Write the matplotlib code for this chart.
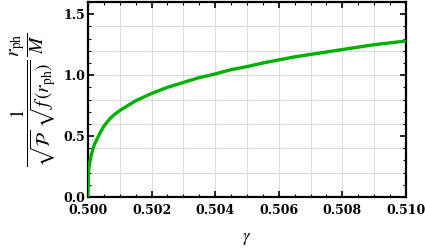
import matplotlib
matplotlib.use('Agg')
import matplotlib.pyplot as plt
from matplotlib.ticker import MultipleLocator, FormatStrFormatter

plt.rcParams['mathtext.fontset'] = 'stix'
plt.rcParams['font.family'] = 'DejaVu Serif'

# values
gamma = [0.5, 0.50001, 0.50002, 0.50004, 0.50006, 0.5001, 0.50015, 0.5002,
         0.5003, 0.5004, 0.5005, 0.5006, 0.5007, 0.5008, 0.5009,
         0.5010, 0.5015, 0.5020, 0.5025, 0.5030, 0.5035, 0.5040, 0.5045,
         0.5050, 0.5055, 0.5060, 0.5065, 0.5070, 0.5075, 0.5080, 0.5085,
         0.5090, 0.5095, 0.5100]
ratio = [0.0, 0.16, 0.21, 0.26, 0.29, 0.34, 0.39, 0.43,
         0.485, 0.535, 0.58, 0.615, 0.645, 0.67, 0.69,
         0.71, 0.79, 0.85, 0.90, 0.94, 0.98, 1.01, 1.045,
         1.07, 1.10, 1.125, 1.15, 1.17, 1.19, 1.21, 1.23,
         1.25, 1.265, 1.28]

fig = plt.figure(figsize=(4.25, 2.52), dpi=100)
ax = fig.add_axes([0.207, 0.218, 0.748, 0.774])

ax.plot(gamma, ratio, color='#00b000', lw=2.4, solid_joinstyle='round', zorder=3)

ax.set_xlim(0.5, 0.51)
ax.set_ylim(0.0, 1.6)

# light grid
for i in range(1, 10):
    ax.axvline(0.5 + 0.001 * i, color='#dddddd', lw=0.8, zorder=1)
for i in range(1, 8):
    ax.axhline(0.2 * i, color='#dddddd', lw=0.8, zorder=1)

ax.xaxis.set_major_locator(MultipleLocator(0.002))
ax.xaxis.set_minor_locator(MultipleLocator(0.0005))
ax.yaxis.set_major_locator(MultipleLocator(0.5))
ax.yaxis.set_minor_locator(MultipleLocator(0.1))
ax.xaxis.set_major_formatter(FormatStrFormatter('%.3f'))
ax.yaxis.set_major_formatter(FormatStrFormatter('%.1f'))

ax.tick_params(which='both', direction='in', top=True, right=True, color='black')
ax.tick_params(which='major', length=4, width=1.2, labelsize=9)
ax.tick_params(axis='x', which='major', pad=5)
ax.tick_params(axis='y', which='major', pad=2)
ax.tick_params(which='minor', length=2.5, width=0.8)
for lab in ax.get_xticklabels() + ax.get_yticklabels():
    lab.set_fontweight('bold')

for s in ax.spines.values():
    s.set_linewidth(1.6)

ax.set_xlabel(r'$\gamma$', fontsize=12, labelpad=9)
ax.set_ylabel(r'$\dfrac{1}{\sqrt{\mathcal{P}}\;\sqrt{f\,(r_{\mathrm{ph}})}}\,\dfrac{r_{\mathrm{ph}}}{M}$',
              fontsize=14, labelpad=4)

fig.savefig('out.png', dpi=100)
